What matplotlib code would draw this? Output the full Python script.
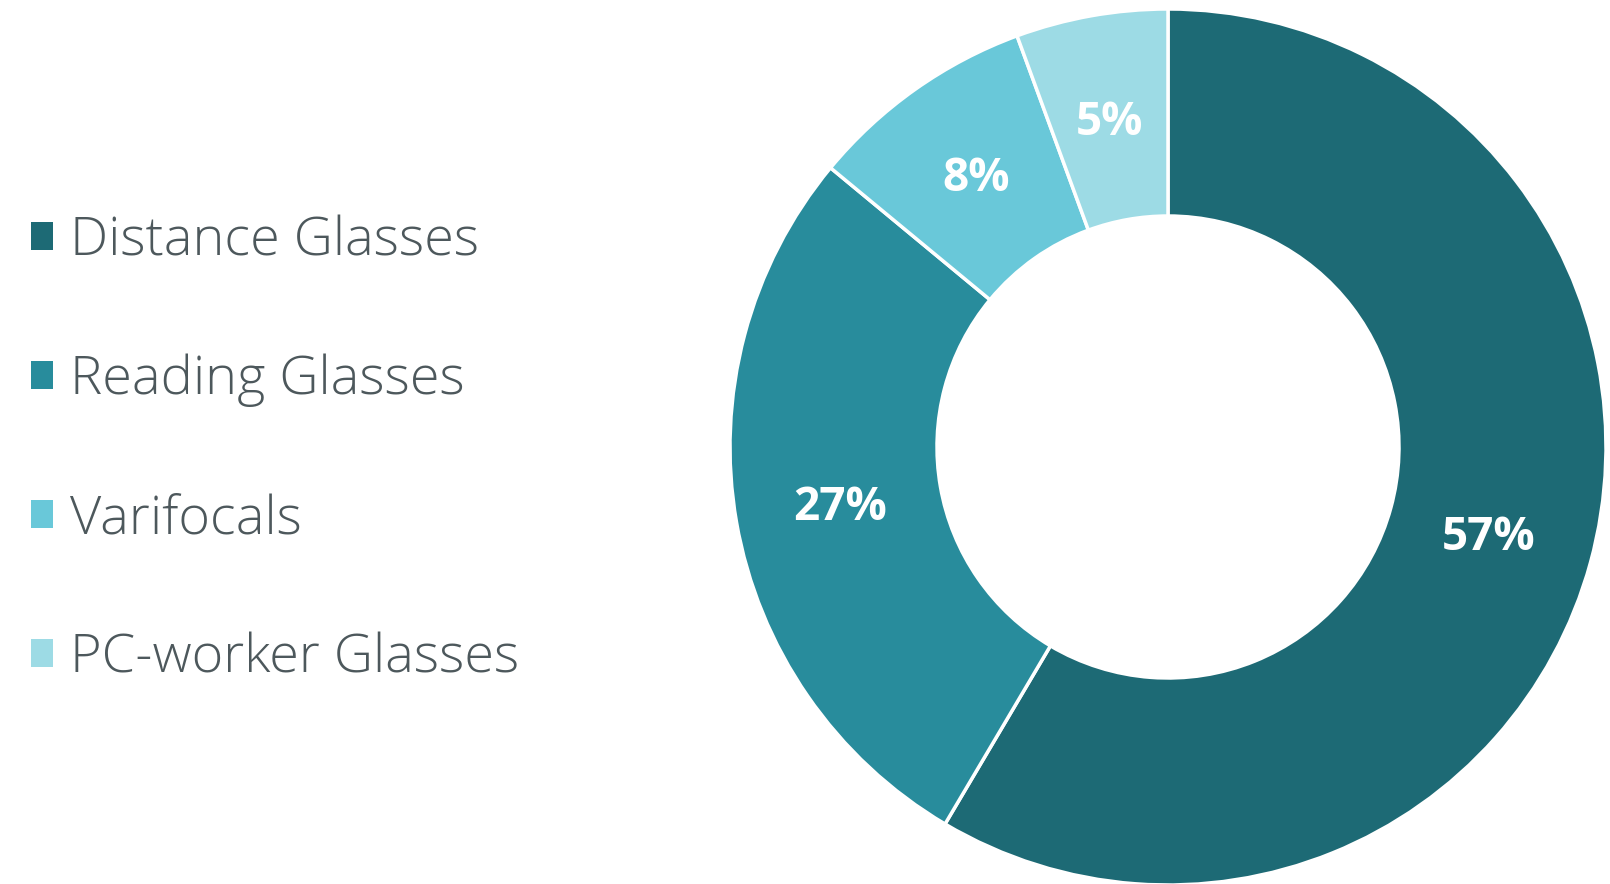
import matplotlib
matplotlib.use("Agg")
import matplotlib.pyplot as plt
import numpy as np

categories = ["Distance Glasses", "Reading Glasses", "Varifocals", "PC-worker Glasses"]
# slice sizes as drawn (angles) and the printed labels
shares = [58.5, 27.5, 8.4, 5.6]
pct_labels = ["57%", "27%", "8%", "5%"]
colors = ["#1d6a75", "#288c9c", "#69c8d9", "#9ddbe5"]

fig = plt.figure(figsize=(16.1, 8.84), dpi=100)
ax = fig.add_axes([0, 0, 1, 1])

wedges, _ = ax.pie(
    shares, colors=colors, center=(1168, 437), radius=438,
    startangle=90, counterclock=False,
    wedgeprops=dict(width=207, edgecolor="white", linewidth=2.5),
)
# labels at the middle of each ring segment
for w, lab in zip(wedges, pct_labels):
    ang = np.deg2rad((w.theta1 + w.theta2) / 2)
    r = 438 * 0.76
    ax.text(1168 + r * np.cos(ang), 437 + r * np.sin(ang) - 3, lab,
            ha="center", va="center", color="white", fontsize=33,
            fontweight="bold", family="Open Sans")

# pie resets the limits, so set them afterwards
ax.set_xlim(0, 1610)
ax.set_ylim(0, 884)
ax.set_aspect("equal")
ax.axis("off")

leg = ax.legend(
    wedges, categories, loc="center left", bbox_to_anchor=(0.019, 0.491),
    frameon=False, borderpad=0, borderaxespad=0,
    handlelength=0.42, handleheight=0.42, handletextpad=0.3, labelspacing=1.58,
    prop=dict(family="Open Sans", weight="light", size=39),
)
for t in leg.get_texts():
    t.set_color("#4d585c")
for h in leg.legend_handles:
    h.set_edgecolor("none")

fig.savefig("out.png", dpi=100, facecolor="white")
